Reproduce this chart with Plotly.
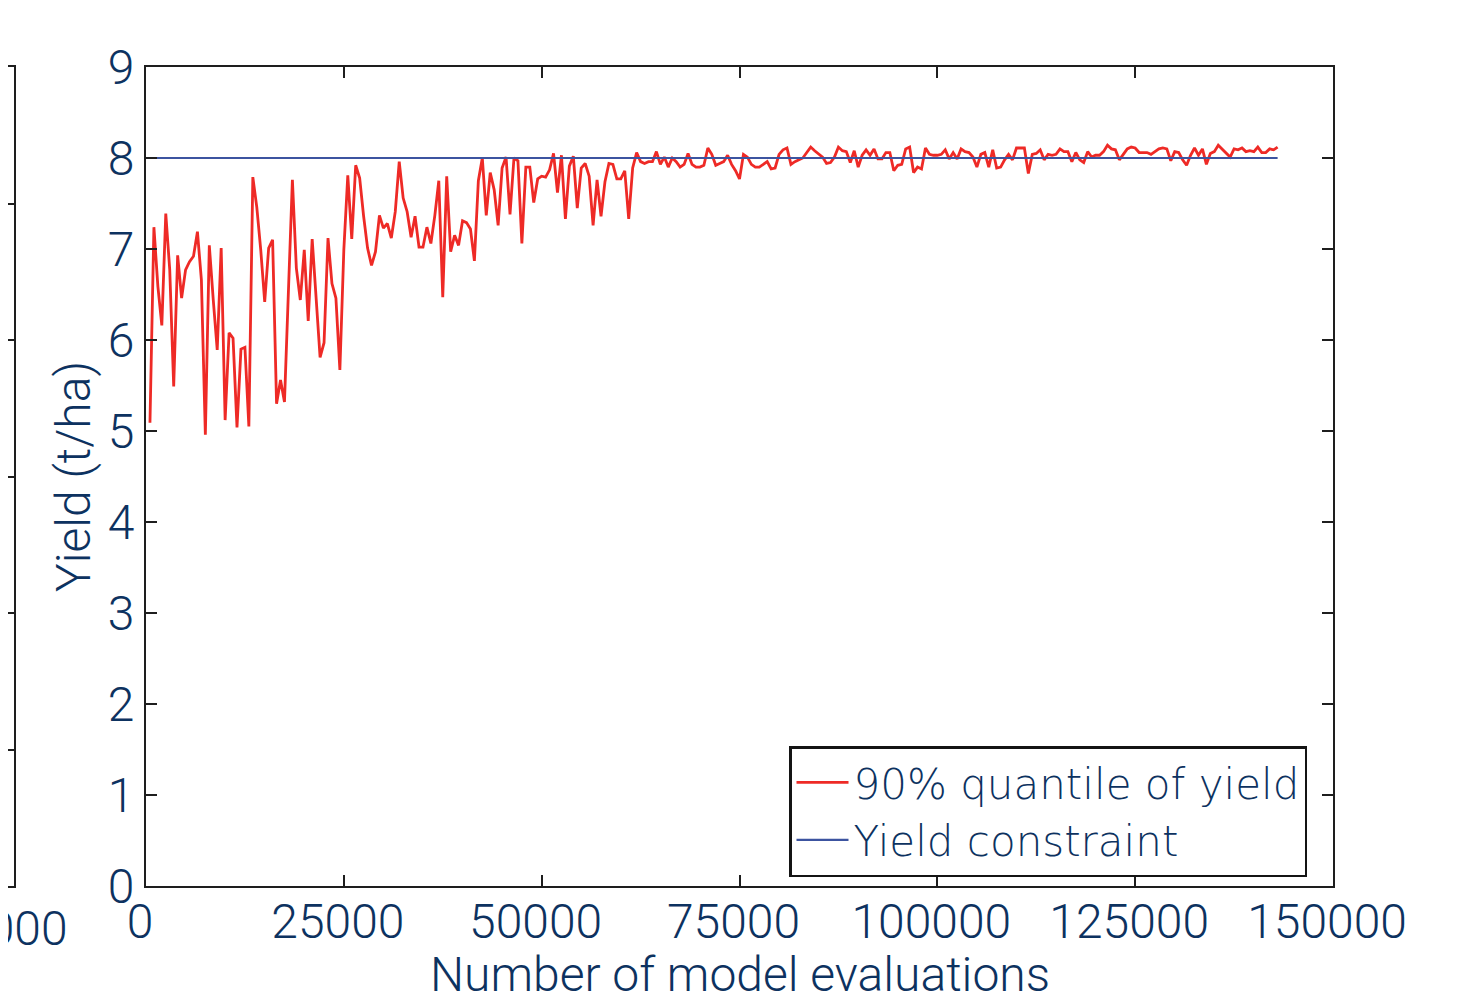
import plotly.graph_objects as go

# ---- data ----
step = 500  # evaluations between recorded points
quantile_yield = [
    5.09, 7.24, 6.59, 6.16, 7.39, 6.77, 5.49, 6.93, 6.46, 6.77, 6.86, 6.92, 7.19, 6.66, 4.96, 7.04,
    6.44, 5.89, 7.01, 5.12, 6.08, 6.02, 5.04, 5.90, 5.92, 5.05, 7.79, 7.46, 6.99, 6.42, 7.01, 7.10,
    5.30, 5.56, 5.32, 6.55, 7.76, 6.79, 6.44, 6.99, 6.21, 7.11, 6.44, 5.81, 5.97, 7.12, 6.62, 6.46,
    5.67, 6.99, 7.81, 7.11, 7.92, 7.78, 7.36, 7.01, 6.82, 6.97, 7.37, 7.23, 7.28, 7.12,
    7.41, 7.96, 7.56, 7.41, 7.13, 7.36, 7.02, 7.02, 7.24, 7.06, 7.37, 7.75, 6.47, 7.80, 6.97, 7.15,
    7.04, 7.31, 7.29, 7.22, 6.87, 7.75, 8.00, 7.37, 7.84, 7.65, 7.26, 7.89, 8.01, 7.38, 8.00, 7.97,
    7.06, 7.90, 7.90, 7.51, 7.77, 7.80, 7.79, 7.87, 8.05, 7.62, 8.03, 7.33, 7.91, 8.02, 7.45, 7.89,
    7.94, 7.80, 7.26, 7.76, 7.36, 7.74, 7.94, 7.93, 7.77, 7.77, 7.86, 7.33, 7.89, 8.06, 7.96,
    7.94, 7.96, 7.96, 8.07, 7.93, 8.01, 7.90, 8.00, 7.96, 7.90, 7.93, 8.05, 7.93, 7.90, 7.90, 7.92,
    8.11, 8.04, 7.92, 7.94, 7.96, 8.03, 7.93, 7.86, 7.77, 8.04, 8.01, 7.93, 7.90, 7.90, 7.93, 7.96,
    7.88, 7.89, 8.04, 8.09, 8.11,
    7.93, 7.96, 7.98, 8.00, 8.06, 8.12, 8.08, 8.04, 8.01, 7.94, 7.95, 8.01, 8.12, 8.08, 8.07, 7.95,
    8.08, 7.90, 8.03, 8.09, 8.03, 8.10, 7.99, 7.99, 8.06, 8.06, 7.86, 7.92, 7.93, 8.10, 8.12, 7.84,
    7.90, 7.88, 8.11, 8.04, 8.03, 8.03, 8.04, 8.09,
    7.99, 8.06, 7.99, 8.10, 8.07, 8.06, 8.01, 7.90, 8.04, 8.06, 7.90, 8.09, 7.89, 7.90, 7.98, 8.04,
    7.98, 8.11, 8.11, 8.11, 7.83, 8.04, 8.05, 8.09, 7.98, 8.04, 8.03, 8.04, 8.10, 8.07, 8.07, 7.96,
    8.06, 7.98, 7.95, 8.07, 8.01, 8.03, 8.03,
    8.07, 8.14, 8.10, 8.09, 7.98, 8.04, 8.10, 8.12, 8.11, 8.06, 8.06, 8.06, 8.04, 8.07, 8.10, 8.11,
    8.10, 7.97, 8.07, 8.06, 7.98, 7.92, 8.03, 8.11, 8.03, 8.10, 7.93, 8.05, 8.07, 8.14, 8.10, 8.05,
    8.01, 8.10, 8.09, 8.11, 8.07, 8.08, 8.07, 8.12, 8.06, 8.06, 8.10, 8.09, 8.12,
]
evaluations = [step * (i + 1) for i in range(len(quantile_yield))]
constraint_value = 8
constraint_x = [0, evaluations[-1]]
constraint_y = [constraint_value, constraint_value]

x_ticks = [0, 25000, 50000, 75000, 100000, 125000, 150000]
y_ticks = list(range(0, 10))

# neighbouring (cropped) panel on the left edge
left_panel_xlabel = "1000"
left_panel_yrange = [0, 6]

# ---- styling ----
TEXT = "rgb(13,50,96)"
FRAME = "rgb(30,30,30)"
RED = "rgb(238,42,38)"
BLUE = "rgb(60,84,160)"
FONT = "Roboto"
FS = 48
W, H = 1463, 1000
# the page adds an 8px body margin, so the figure is laid out 8px up/left
ML, MR, MT, MB = 0, 138, 59, 122
PW = W - ML - MR
PH = H - MT - MB

fig = go.Figure()
fig.add_trace(go.Scatter(x=evaluations, y=quantile_yield, mode="lines",
                         line=dict(color=RED, width=2.8), name="90% quantile of yield",
                         xaxis="x", yaxis="y"))
fig.add_trace(go.Scatter(x=constraint_x, y=constraint_y, mode="lines",
                         line=dict(color=BLUE, width=2.2), name="Yield constraint",
                         xaxis="x", yaxis="y"))
fig.add_trace(go.Scatter(x=[None], y=[None], mode="lines", showlegend=False,
                         hoverinfo="skip", xaxis="x2", yaxis="y2"))

tfont = dict(family=FONT, size=FS, color=TEXT, weight=300)
axis_common = dict(showline=True, linecolor=FRAME, linewidth=2, mirror="allticks",
                   ticks="inside", ticklen=11, tickwidth=1.5, tickcolor=FRAME,
                   showgrid=False, zeroline=False, automargin=False, tickfont=tfont)

fig.update_layout(
    width=W, height=H,
    margin=dict(l=ML, r=MR, t=MT, b=MB),
    paper_bgcolor="white", plot_bgcolor="white",
    font=dict(family=FONT, color=TEXT, weight=300),
    showlegend=True,
    xaxis=dict(domain=[138 / PW, 1], range=[0, 150000], tickvals=x_ticks,
               ticktext=[str(v) for v in x_ticks], anchor="y", ticklabelshift=-6,
               ticklabelstandoff=-8,
               **axis_common),
    yaxis=dict(domain=[0, 1], range=[0, 9], tickvals=y_ticks, anchor="x",
               title=dict(text="Yield (t/ha)", font=tfont, standoff=2),
               **axis_common),
    xaxis2=dict(domain=[0, 6 / PW], range=[0, 1], showticklabels=False,
                anchor="y2", showline=True, linecolor=FRAME, linewidth=2, mirror=True,
                ticks="", showgrid=False, zeroline=False, automargin=False),
    yaxis2=dict(domain=[0, 1], range=left_panel_yrange, dtick=1, anchor="x2", side="right",
                showline=True, linecolor=FRAME, linewidth=2, mirror=False,
                ticks="inside", ticklen=10, tickwidth=1.5, tickcolor=FRAME,
                showticklabels=False, showgrid=False, zeroline=False, automargin=False),
    legend=dict(x=1299 / PW, xanchor="right", y=(878 - 869) / PH, yanchor="bottom",
                bgcolor="white", bordercolor="rgb(20,20,20)", borderwidth=2.5,
                font=dict(family="DejaVu Sans", size=42, color=TEXT, weight=300),
                itemwidth=52, tracegroupgap=0),
    annotations=[
        dict(text="Number of model evaluations", xref="x domain", yref="paper",
             x=0.5, y=(878 - 966) / PH, xanchor="center", yanchor="middle",
             showarrow=False, font=tfont),
        dict(text=left_panel_xlabel, xref="paper", yref="paper",
             x=62 / PW, y=(878 - 920) / PH, xanchor="right", yanchor="middle",
             showarrow=False, font=tfont),
    ],
)

fig.write_html("out.html")
